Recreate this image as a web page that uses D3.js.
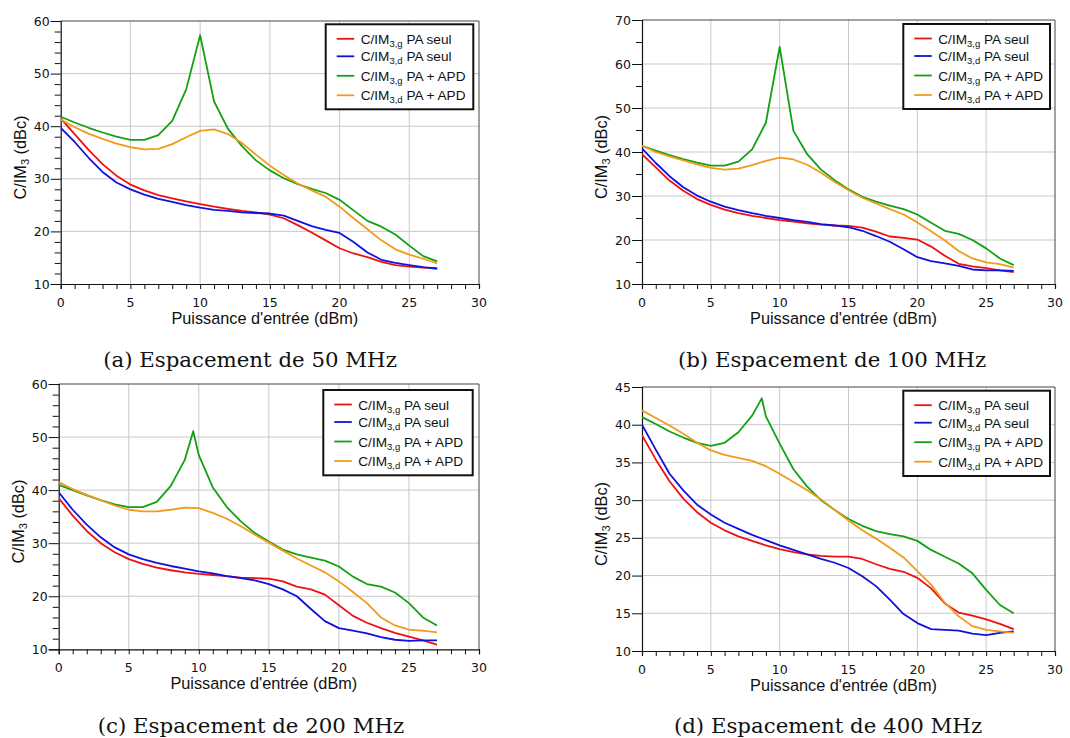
<!DOCTYPE html>
<html><head><meta charset="utf-8">
<script src="https://cdn.jsdelivr.net/npm/d3@7"></script>
<style>
html,body{margin:0;padding:0;background:#fff;}
svg{display:block;}
</style>
</head><body>
<svg id="chart" width="1070" height="738"></svg>
<script>
// ---------- DATA ----------
const xPower = [0,1,2,3,4,5,6,7,8,9,10,11,12,13,14,15,16,17,18,19,20,21,22,23,24,25,26,27];
const xPowerC_green = [0,1,2,3,4,5,6,7,8,9,9.6,10,11,12,13,14,15,16,17,18,19,20,21,22,23,24,25,26,27];
const xPowerD_green = [0,1,2,3,4,5,6,7,8,8.7,9,10,11,12,13,14,15,16,17,18,19,20,21,22,23,24,25,26,27];

const seriesNames = ["PA seul","PA seul","PA + APD","PA + APD"];
const seriesSubs = ["3,g","3,d","3,g","3,d"];
const seriesColors = ["#ee1111","#1111dd","#13a013","#f39a1a"];

// (a) 50 MHz
const a_red   = [41.5,38.5,35.5,32.8,30.6,28.9,27.8,26.9,26.3,25.7,25.2,24.7,24.3,23.9,23.6,23.2,22.5,21.2,19.8,18.3,16.8,15.8,15.1,14.2,13.6,13.3,13.1,13.0];
const a_blue  = [39.7,37.0,34.0,31.3,29.3,28.0,27.0,26.2,25.6,25.0,24.5,24.1,23.9,23.6,23.5,23.4,23.0,22.0,21.0,20.3,19.7,18.0,16.0,14.6,14.0,13.6,13.2,12.9];
const a_green = [41.8,40.7,39.7,38.8,38.0,37.4,37.4,38.3,41.0,47.0,57.3,44.7,39.5,36.2,33.5,31.6,30.1,29.0,28.1,27.3,26.0,24.0,22.0,20.9,19.4,17.3,15.3,14.3];
const a_orange= [41.3,39.8,38.6,37.6,36.7,36.0,35.6,35.7,36.6,37.9,39.1,39.4,38.5,36.8,34.6,32.5,30.7,29.1,27.8,26.6,24.7,22.5,20.4,18.3,16.6,15.6,14.8,13.9];

// (b) 100 MHz
const b_red   = [39.5,36.5,33.5,31.2,29.3,28.0,26.9,26.1,25.5,25.0,24.5,24.2,23.8,23.5,23.3,23.2,22.8,21.9,20.8,20.5,20.1,18.5,16.4,14.6,14.0,13.6,13.1,12.7];
const b_blue  = [40.8,37.5,34.5,32.0,30.1,28.7,27.6,26.8,26.1,25.5,25.0,24.5,24.1,23.6,23.3,22.9,22.1,20.9,19.6,17.9,16.1,15.2,14.7,14.1,13.3,13.1,13.1,13.0];
const b_green = [41.4,40.3,39.3,38.4,37.6,36.9,36.9,37.8,40.6,46.7,63.9,44.8,39.5,36.0,33.6,31.5,29.8,28.7,27.8,27.0,25.8,23.9,22.1,21.4,20.0,18.1,15.8,14.3];
const b_orange= [41.4,40.0,39.0,38.1,37.2,36.4,36.0,36.2,37.0,38.0,38.7,38.3,37.1,35.3,33.2,31.3,29.6,28.3,27.0,25.8,24.0,22.0,19.9,17.5,15.8,14.9,14.5,13.7];

// (c) 200 MHz
const c_red   = [38.5,35.2,32.3,30.0,28.3,27.0,26.1,25.4,24.9,24.5,24.2,24.0,23.8,23.5,23.4,23.3,22.8,21.8,21.3,20.3,18.3,16.3,15.0,14.0,13.1,12.4,11.7,10.9];
const c_blue  = [39.6,36.3,33.5,31.1,29.2,27.9,27.0,26.3,25.7,25.2,24.7,24.3,23.8,23.4,23.0,22.3,21.3,20.0,17.6,15.3,14.0,13.5,13.0,12.3,11.8,11.6,11.7,11.7];
const c_green = [41.0,40.0,39.0,38.1,37.3,36.8,36.8,37.8,40.8,45.7,51.1,46.6,40.5,36.8,34.1,31.9,30.3,28.8,27.9,27.3,26.7,25.6,23.7,22.3,21.8,20.7,18.7,16.0,14.5];
const c_orange= [41.5,40.2,39.1,38.1,37.1,36.3,36.0,36.0,36.3,36.7,36.6,35.7,34.6,33.2,31.6,30.1,28.6,27.1,25.8,24.5,22.8,20.8,18.7,16.0,14.5,13.7,13.5,13.2];

// (d) 400 MHz
const d_red   = [38.6,35.4,32.5,30.2,28.4,27.0,26.0,25.2,24.6,24.0,23.5,23.1,22.8,22.6,22.5,22.5,22.2,21.5,20.9,20.5,19.7,18.3,16.3,15.1,14.7,14.2,13.6,12.9];
const d_blue  = [40.0,36.7,33.5,31.3,29.4,28.1,27.0,26.2,25.4,24.7,24.0,23.4,22.8,22.2,21.7,21.0,19.9,18.6,16.8,14.9,13.7,12.9,12.8,12.7,12.3,12.1,12.4,12.6];
const d_green = [41.0,40.1,39.1,38.3,37.6,37.2,37.6,39.0,41.2,43.5,41.1,37.5,34.1,31.8,30.0,28.7,27.5,26.6,25.9,25.5,25.2,24.6,23.4,22.5,21.6,20.3,18.1,16.1,15.0];
const d_orange= [41.9,40.9,39.9,38.8,37.6,36.6,36.0,35.6,35.2,34.5,33.5,32.4,31.3,30.1,28.7,27.3,26.0,24.9,23.7,22.4,20.6,18.8,16.4,14.6,13.3,12.8,12.6,12.4];

const captions = ["(a) Espacement de 50 MHz","(b) Espacement de 100 MHz","(c) Espacement de 200 MHz","(d) Espacement de 400 MHz"];
const xTickLabels = [0,5,10,15,20,25,30];
const xMinorTicks = [0,1,2,3,4,5,6,7,8,9,10,11,12,13,14,15,16,17,18,19,20,21,22,23,24,25,26,27,28,29,30];
const yTicksA = [10,20,30,40,50,60];
const yTicksB = [10,20,30,40,50,60,70];
const yTicksC = [10,20,30,40,50,60];
const yTicksD = [10,15,20,25,30,35,40,45];
const yMinorA = [12,14,16,18,22,24,26,28,32,34,36,38,42,44,46,48,52,54,56,58];
const yMinorB = [15,25,35,45,55,65];
const yMinorC = [12,14,16,18,22,24,26,28,32,34,36,38,42,44,46,48,52,54,56,58];
const yMinorD = [];

// ---------- LAYOUT ----------
const panels = [
  {box:[60.7,479,21,284],  yTicks:yTicksA, yMinor:yMinorA, xs:[xPower,xPower,xPower,xPower], ys:[a_red,a_blue,a_green,a_orange], leg:[325.7,24.3,147.6,85], cap:[250,367]},
  {box:[642,1055,20,284],  yTicks:yTicksB, yMinor:yMinorB, xs:[xPower,xPower,xPower,xPower], ys:[b_red,b_blue,b_green,b_orange], leg:[903.3,24,146.7,85], cap:[832,367]},
  {box:[58.7,479,384,649.3], yTicks:yTicksC, yMinor:yMinorC, xs:[xPower,xPower,xPowerC_green,xPower], ys:[c_red,c_blue,c_green,c_orange], leg:[323.3,390,149.4,85.3], cap:[251,733]},
  {box:[642,1055,387,651], yTicks:yTicksD, yMinor:yMinorD, xs:[xPower,xPower,xPowerD_green,xPower], ys:[d_red,d_blue,d_green,d_orange], leg:[903.3,390.7,146.7,85.3], cap:[828,733]}
];

const svg = d3.select("#chart");
const tickFont = "DejaVu Sans";
const sansFont = "Liberation Sans, Arial, sans-serif";

panels.forEach((p,pi)=>{
  const [L,R,T,B] = p.box;
  const yMin = d3.min(p.yTicks), yMax = d3.max(p.yTicks);
  const x = d3.scaleLinear().domain([0,30]).range([L,R]);
  const y = d3.scaleLinear().domain([yMin,yMax]).range([B,T]);
  const g = svg.append("g");

  // grid
  g.append("g").selectAll("line").data(xTickLabels.filter(v=>v>0&&v<30)).join("line")
    .attr("x1",d=>x(d)).attr("x2",d=>x(d)).attr("y1",T).attr("y2",B)
    .attr("stroke","#c8c8c8").attr("stroke-width",1);
  g.append("g").selectAll("line").data(p.yTicks.filter(v=>v>yMin&&v<yMax)).join("line")
    .attr("x1",L).attr("x2",R).attr("y1",d=>y(d)).attr("y2",d=>y(d))
    .attr("stroke","#c8c8c8").attr("stroke-width",1);

  // frame top/right
  g.append("line").attr("x1",L).attr("x2",R).attr("y1",T).attr("y2",T).attr("stroke","#444").attr("stroke-width",1);
  g.append("line").attr("x1",R).attr("x2",R).attr("y1",T).attr("y2",B).attr("stroke","#444").attr("stroke-width",1);

  // x axis
  const xAxis = d3.axisBottom(x).tickValues(xMinorTicks).tickSize(5).tickFormat("");
  const gx = g.append("g").attr("transform",`translate(0,${B})`).call(xAxis);
  gx.select(".domain").attr("stroke","#111").attr("stroke-width",1.2);
  gx.selectAll(".tick line").attr("stroke","#111");
  g.append("g").selectAll("text").data(xTickLabels).join("text")
    .attr("x",d=>x(d)).attr("y",B+23).attr("text-anchor","middle")
    .attr("font-family",tickFont).attr("font-size",12.5).attr("fill","#111")
    .text(d=>d);

  // y axis
  const yAxis = d3.axisLeft(y).tickValues(p.yTicks).tickSize(10).tickPadding(1)
    .tickFormat(d=>d);
  const gy = g.append("g").attr("transform",`translate(${L},0)`).call(yAxis);
  gy.select(".domain").attr("stroke","#111").attr("stroke-width",1.2);
  gy.selectAll(".tick line").attr("stroke","#111");
  gy.selectAll(".tick text").attr("font-family",tickFont).attr("font-size",12.5).attr("fill","#111");
  if (p.yMinor.length) {
    const yAxisMinor = d3.axisLeft(y).tickValues(p.yMinor).tickSize(6).tickFormat("");
    const gym = g.append("g").attr("transform",`translate(${L},0)`).call(yAxisMinor);
    gym.select(".domain").remove();
    gym.selectAll(".tick line").attr("stroke","#111");
  }

  // axis titles
  g.append("text").attr("x",(L+R)/2-5).attr("y",B+39.5).attr("text-anchor","middle")
    .attr("font-family",sansFont).attr("font-size",16.3).attr("fill","#111")
    .text("Puissance d'entrée (dBm)");
  const yt = g.append("text")
    .attr("transform",`translate(${L-35},${(T+B)/2+5}) rotate(-90)`)
    .attr("text-anchor","middle").attr("font-family",sansFont).attr("font-size",16.3).attr("fill","#111");
  yt.append("tspan").text("C/IM");
  yt.append("tspan").attr("font-size",11).attr("dy",3).text("3");
  yt.append("tspan").attr("dy",-3).text(" (dBc)");

  // lines
  const clipId = "clip"+pi;
  svg.append("clipPath").attr("id",clipId).append("rect").attr("x",L).attr("y",T).attr("width",R-L).attr("height",B-T);
  const line = d3.line().x(d=>x(d[0])).y(d=>y(d[1]));
  p.ys.forEach((vals,si)=>{
    const pts = p.xs[si].map((xv,i)=>[xv,vals[i]]);
    g.append("path").datum(pts).attr("d",line).attr("fill","none")
      .attr("stroke",seriesColors[si]).attr("stroke-width",1.8).attr("stroke-linejoin","round")
      .attr("clip-path",`url(#${clipId})`);
  });

  // legend
  const [lx,ly,lw,lh] = p.leg;
  const lg = g.append("g").attr("transform",`translate(${lx},${ly})`);
  lg.append("rect").attr("x",0).attr("y",0).attr("width",lw).attr("height",lh)
    .attr("fill","#fff").attr("stroke","#111").attr("stroke-width",2);
  const rowY = [14.5,32,51.5,71];
  seriesNames.forEach((nm,si)=>{
    lg.append("line").attr("x1",11).attr("x2",28.5).attr("y1",rowY[si]).attr("y2",rowY[si])
      .attr("stroke",seriesColors[si]).attr("stroke-width",1.8);
    const t = lg.append("text").attr("x",35).attr("y",rowY[si]+5)
      .attr("font-family",sansFont).attr("font-size",13.6).attr("fill","#111");
    t.append("tspan").text("C/IM");
    t.append("tspan").attr("font-size",9.5).attr("dy",3).text(seriesSubs[si]);
    t.append("tspan").attr("dy",-3).text(" "+nm);
  });

  // caption
  svg.append("text").attr("x",p.cap[0]).attr("y",p.cap[1]).attr("text-anchor","middle")
    .attr("font-family","DejaVu Serif, serif").attr("font-size",21.3).attr("fill","#111")
    .text(captions[pi]);
});
</script>
</body></html>
